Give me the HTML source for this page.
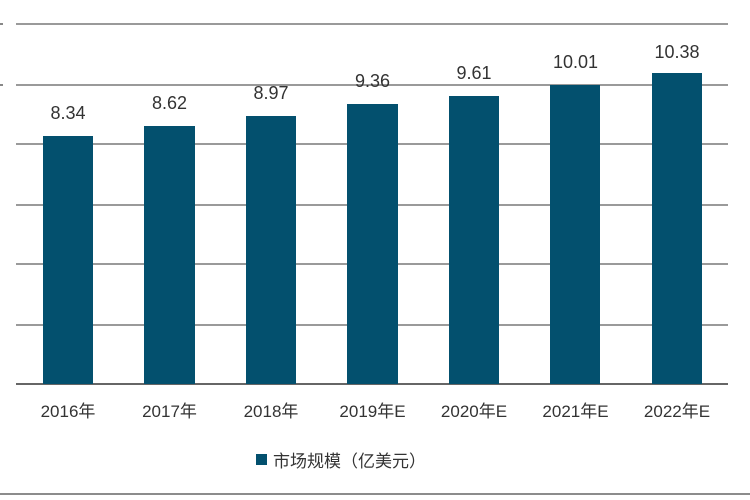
<!DOCTYPE html>
<html><head><meta charset="utf-8"><style>
body{margin:0;background:#fff;}
svg{display:block;font-family:"Liberation Sans","Noto Sans CJK SC",sans-serif;}
</style></head><body>
<svg width="750" height="500" viewBox="0 0 750 500">
<rect width="750" height="500" fill="#fff"/>
<g stroke="#9a9a9a" stroke-width="2">
<line x1="16" y1="24" x2="728" y2="24"/>
<line x1="16" y1="85" x2="728" y2="85"/>
<line x1="16" y1="144" x2="728" y2="144"/>
<line x1="16" y1="205" x2="728" y2="205"/>
<line x1="16" y1="264" x2="728" y2="264"/>
<line x1="16" y1="325" x2="728" y2="325"/>
</g>
<line x1="16" y1="384" x2="728" y2="384" stroke="#333" stroke-width="1.5"/>
<g stroke="#888" stroke-width="2"><line x1="0" y1="24" x2="3" y2="24"/><line x1="0" y1="85" x2="3" y2="85"/></g>
<g fill="#03506e">
<rect x="43" y="136" width="50" height="248"/>
<rect x="144" y="126" width="51" height="258"/>
<rect x="246" y="116" width="50" height="268"/>
<rect x="347" y="104" width="51" height="280"/>
<rect x="449" y="96" width="50" height="288"/>
<rect x="550" y="85" width="50" height="299"/>
<rect x="652" y="73" width="50" height="311"/>
</g>
<g fill="#333" font-size="18" text-anchor="middle">
<text x="68" y="119">8.34</text>
<text x="169.5" y="109">8.62</text>
<text x="271" y="99">8.97</text>
<text x="372.5" y="87">9.36</text>
<text x="474" y="79">9.61</text>
<text x="575.5" y="68">10.01</text>
<text x="677" y="58">10.38</text>
</g>
<g fill="#333" font-size="17" text-anchor="middle">
<text x="68" y="417">2016年</text>
<text x="169.5" y="417">2017年</text>
<text x="271" y="417">2018年</text>
<text x="372.5" y="417">2019年E</text>
<text x="474" y="417">2020年E</text>
<text x="575.5" y="417">2021年E</text>
<text x="677" y="417">2022年E</text>
</g>
<rect x="256" y="454" width="11" height="11" fill="#03506e"/>
<text x="273" y="467" fill="#333" font-size="17">市场规模（亿美元）</text>
<line x1="0" y1="494" x2="750" y2="494" stroke="#666" stroke-width="1.5"/>
</svg>
</body></html>
